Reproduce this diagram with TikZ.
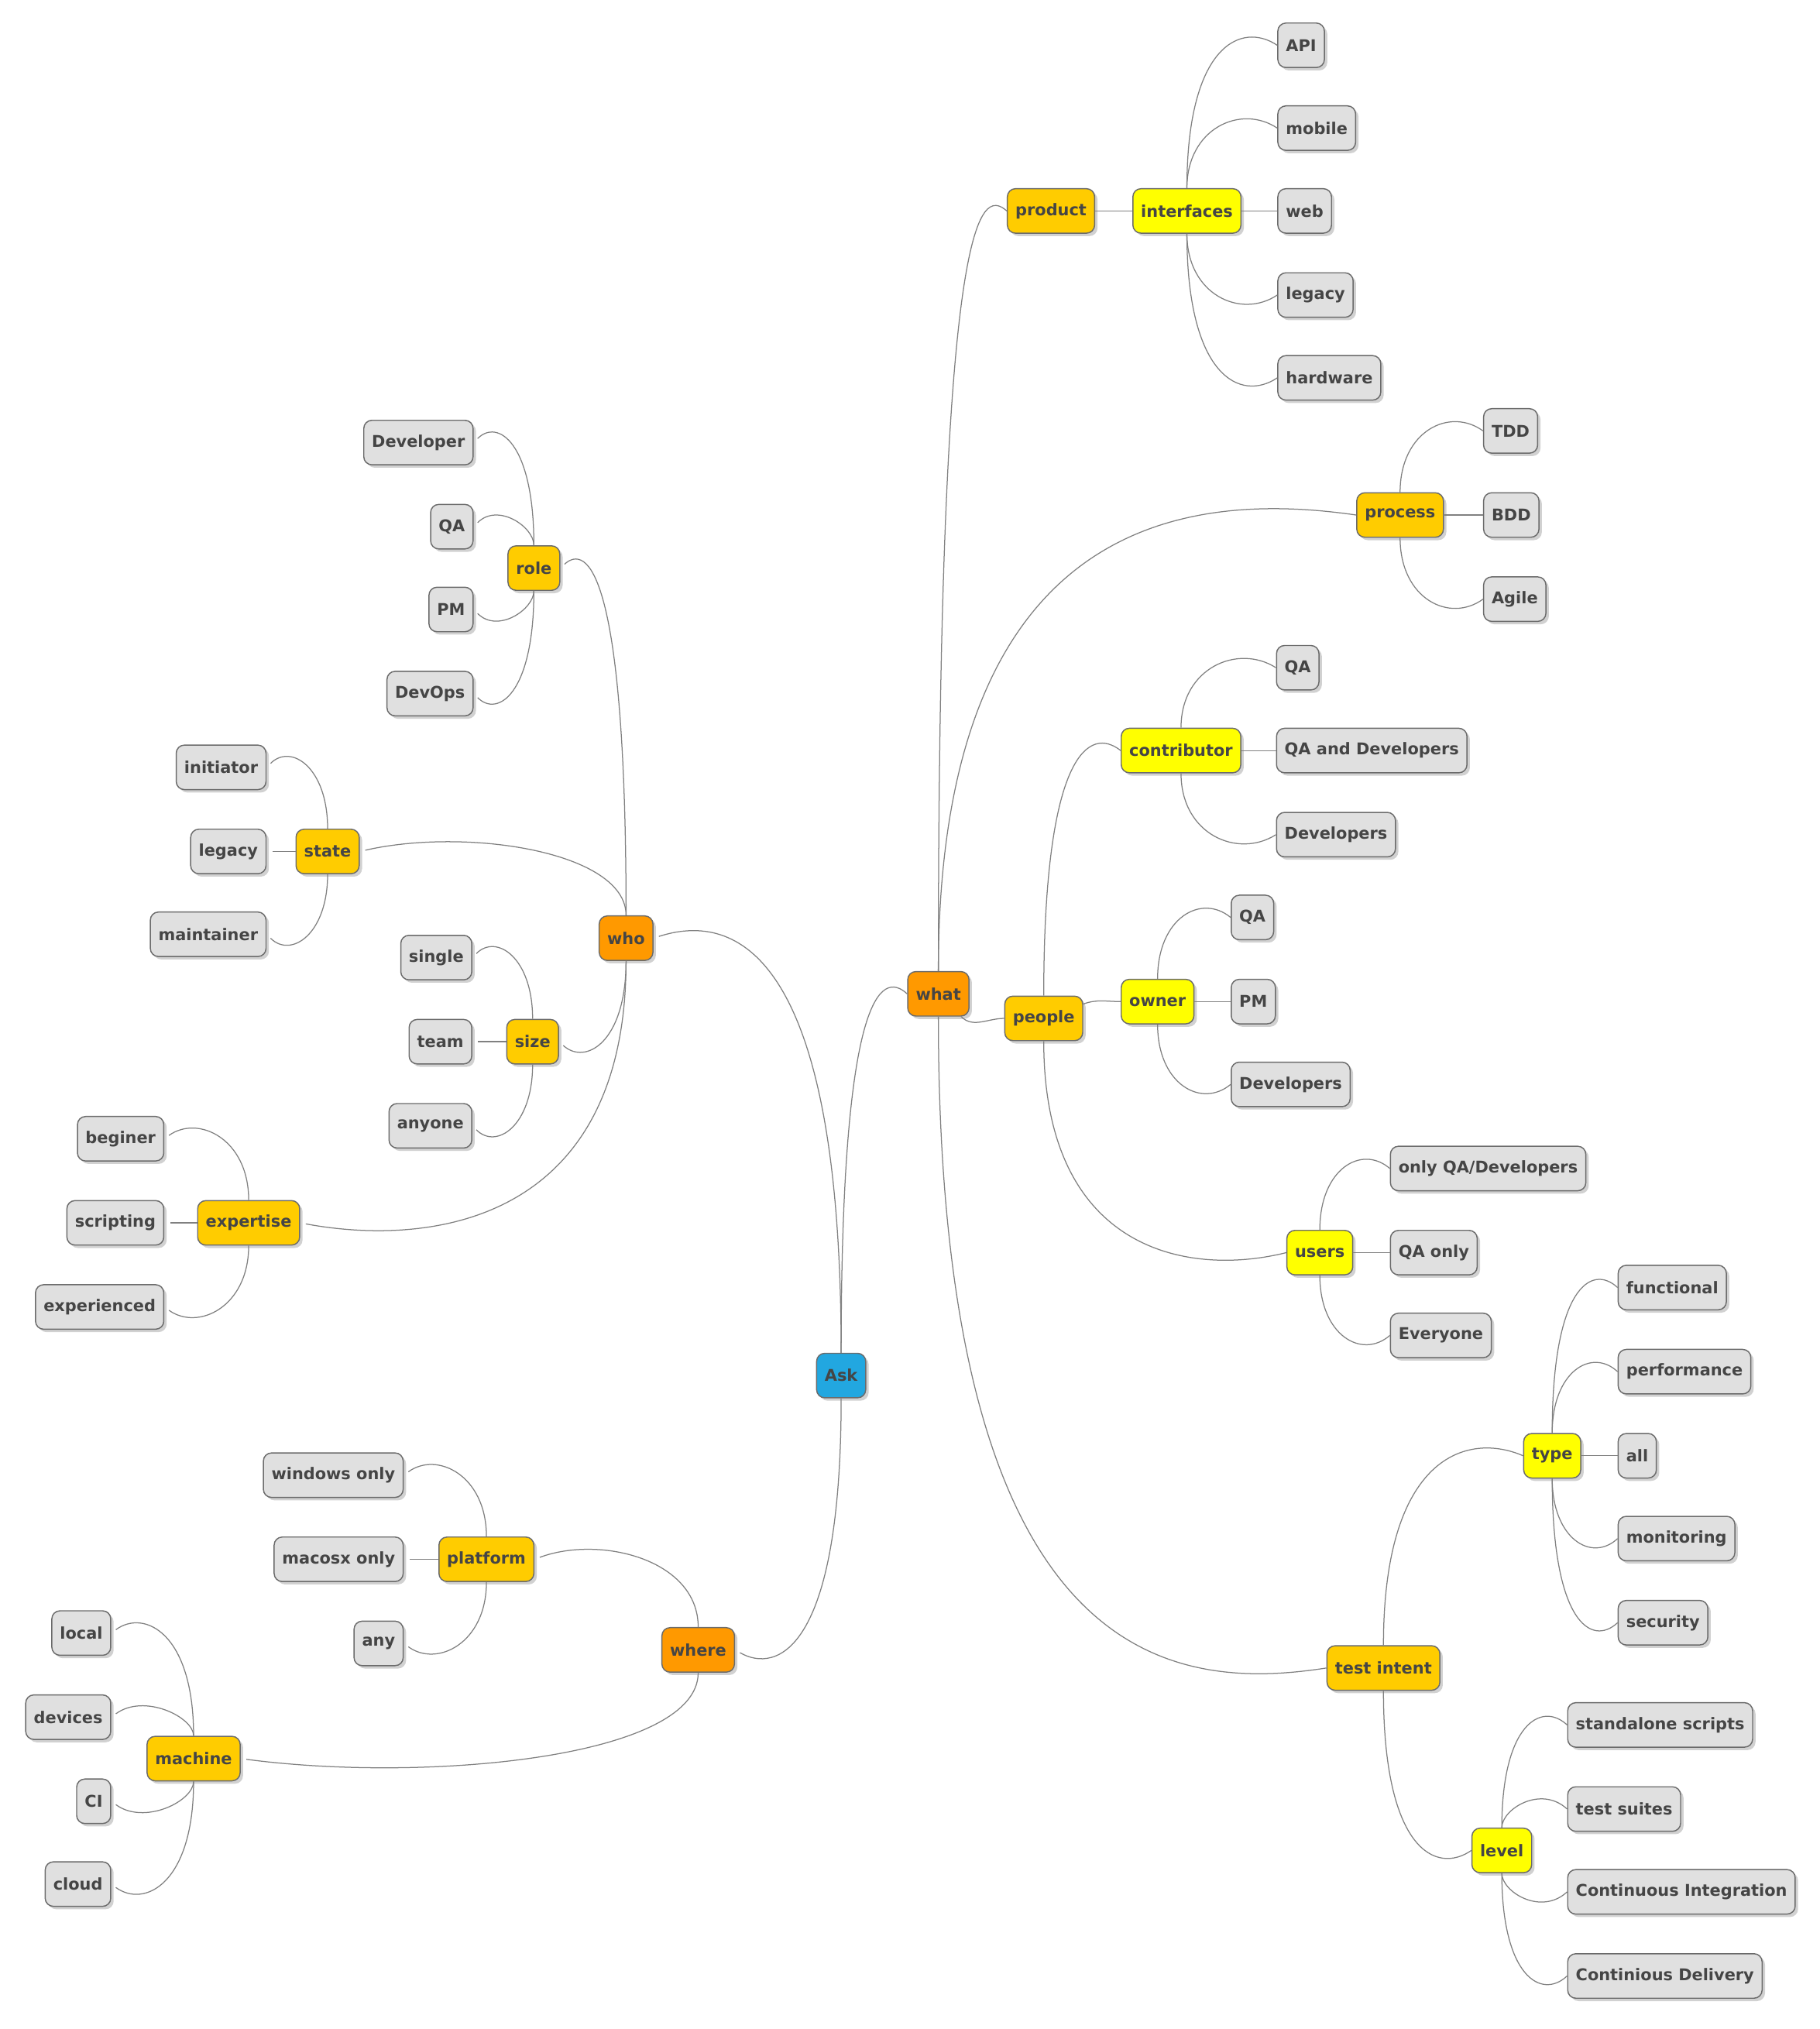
\documentclass[tikz,border=0pt]{standalone}
\usepackage{fontspec}
\setmainfont{DejaVu Sans}
\usetikzlibrary{shadows, calc}

\definecolor{rootblue}{HTML}{22A7E0}
\definecolor{lvlone}{HTML}{FF9900}
\definecolor{lvltwo}{HTML}{FFCC00}
\definecolor{lvlthree}{HTML}{FFFF00}
\definecolor{leafgray}{HTML}{E0E0E0}
\definecolor{boxline}{HTML}{6B6B6B}
\definecolor{txtgray}{HTML}{454545}
\definecolor{linkgray}{HTML}{808080}

\begin{document}
\begin{tikzpicture}[x=0.8pt, y=-0.8pt,
	box/.style={draw=boxline, line width=0.7pt, rounded corners=5pt, text=txtgray,
		font=\bfseries\fontsize{10}{12}\selectfont, inner xsep=5pt, minimum height=27.5pt,
		drop shadow={shadow xshift=1.8pt, shadow yshift=-1.8pt, fill=black!45, opacity=0.4}},
	ask/.style={box, fill=rootblue},
	one/.style={box, fill=lvlone},
	two/.style={box, fill=lvltwo},
	three/.style={box, fill=lvlthree},
	leaf/.style={box, fill=leafgray},
	R/.style={anchor=west},
	L/.style={anchor=east},
	link/.style={draw=linkgray, line width=0.6pt},
	llink/.style={link, shorten >=3.5pt},
	hookup/.style={to path={.. controls (\tikztostart |- \tikztotarget)
		and ([yshift=15pt]$(\tikztotarget)!0.4!(\tikztostart |- \tikztotarget)$) .. (\tikztotarget)}},
	hookdown/.style={to path={.. controls (\tikztostart |- \tikztotarget)
		and ([yshift=-15pt]$(\tikztotarget)!0.4!(\tikztostart |- \tikztotarget)$) .. (\tikztotarget)}}]

	\useasboundingbox (0,0) rectangle (1406,1568);

	\node[ask] (ask) at (650,1063) {Ask};

	% right side
	\node[one, R] (what) at (701,768) {what};

	\node[two, R] (product) at (778,163) {product};
	\node[three, R] (interfaces) at (875,163) {interfaces};
	\node[leaf, R] (api) at (987,35) {API};
	\node[leaf, R] (mobile) at (987,99) {mobile};
	\node[leaf, R] (web) at (987,163) {web};
	\node[leaf, R] (legacyr) at (987,228) {legacy};
	\node[leaf, R] (hardware) at (987,292) {hardware};

	\node[two, R] (process) at (1048,398) {process};
	\node[leaf, R] (tdd) at (1146,333) {TDD};
	\node[leaf, R] (bdd) at (1146,398) {BDD};
	\node[leaf, R] (agile) at (1146,463) {Agile};

	\node[two, R] (people) at (776,787) {people};
	\node[three, R] (contributor) at (866,580) {contributor};
	\node[leaf, R] (cqa) at (986,516) {QA};
	\node[leaf, R] (cqadev) at (986,580) {QA and Developers};
	\node[leaf, R] (cdev) at (986,645) {Developers};
	\node[three, R] (owner) at (866,774) {owner};
	\node[leaf, R] (oqa) at (951,709) {QA};
	\node[leaf, R] (opm) at (951,774) {PM};
	\node[leaf, R] (odev) at (951,838) {Developers};
	\node[three, R] (users) at (994,968) {users};
	\node[leaf, R] (uonly) at (1074,903) {only QA/Developers};
	\node[leaf, R] (uqa) at (1074,968) {QA only};
	\node[leaf, R] (uall) at (1074,1032) {Everyone};

	\node[two, R] (intent) at (1025,1289) {test intent};
	\node[three, R] (type) at (1177,1125) {type};
	\node[leaf, R] (functional) at (1250,995) {functional};
	\node[leaf, R] (performance) at (1250,1060) {performance};
	\node[leaf, R] (all) at (1250,1125) {all};
	\node[leaf, R] (monitoring) at (1250,1189) {monitoring};
	\node[leaf, R] (security) at (1250,1254) {security};
	\node[three, R] (level) at (1137,1430) {level};
	\node[leaf, R] (scripts) at (1211,1333) {standalone scripts};
	\node[leaf, R] (suites) at (1211,1398) {test suites};
	\node[leaf, R] (ci) at (1211,1462) {Continuous Integration};
	\node[leaf, R] (cd) at (1211,1527) {Continious Delivery};

	% left side
	\node[one, L] (who) at (505,725) {who};

	\node[two, L] (role) at (433,439) {role};
	\node[leaf, L] (developer) at (366,342) {Developer};
	\node[leaf, L] (rqa) at (366,407) {QA};
	\node[leaf, L] (rpm) at (366,471) {PM};
	\node[leaf, L] (devops) at (366,536) {DevOps};

	\node[two, L] (state) at (278,658) {state};
	\node[leaf, L] (initiator) at (206,593) {initiator};
	\node[leaf, L] (legacyl) at (206,658) {legacy};
	\node[leaf, L] (maintainer) at (206,722) {maintainer};

	\node[two, L] (size) at (432,805) {size};
	\node[leaf, L] (single) at (365,740) {single};
	\node[leaf, L] (team) at (365,805) {team};
	\node[leaf, L] (anyone) at (365,870) {anyone};

	\node[two, L] (expertise) at (232,945) {expertise};
	\node[leaf, L] (beginer) at (127,880) {beginer};
	\node[leaf, L] (scripting) at (127,945) {scripting};
	\node[leaf, L] (experienced) at (127,1010) {experienced};

	\node[one, L] (where) at (568,1275) {where};

	\node[two, L] (platform) at (413,1205) {platform};
	\node[leaf, L] (windows) at (312,1140) {windows only};
	\node[leaf, L] (macosx) at (312,1205) {macosx only};
	\node[leaf, L] (any) at (312,1270) {any};

	\node[two, L] (machine) at (186,1359) {machine};
	\node[leaf, L] (local) at (86,1262) {local};
	\node[leaf, L] (devices) at (86,1327) {devices};
	\node[leaf, L] (cil) at (86,1392) {CI};
	\node[leaf, L] (cloud) at (86,1456) {cloud};

	% links, right side
	\draw[link] (ask) to[hookup] (what.west);
	\draw[link] (what) to[hookup] (product.west);
	\draw[link] (what) to[hookup] (process.west);
	\draw[link] (what) to[out=-45, in=180] (people.west);
	\draw[link] (what) to[hookdown] (intent.west);

	\draw[link] (product) -- (interfaces);
	\draw[link] (interfaces) to[hookup] (api.west);
	\draw[link] (interfaces) to[hookup] (mobile.west);
	\draw[link] (interfaces) -- (web);
	\draw[link] (interfaces) to[hookdown] (legacyr.west);
	\draw[link] (interfaces) to[hookdown] (hardware.west);

	\draw[link] (process) to[hookup] (tdd.west);
	\draw[link] (process) -- (bdd);
	\draw[link] (process) to[hookdown] (agile.west);

	\draw[link] (people) to[hookup] (contributor.west);
	\draw[link] (people) to[out=20, in=180] (owner.west);
	\draw[link] (people) to[hookdown] (users.west);
	\draw[link] (contributor) to[hookup] (cqa.west);
	\draw[link] (contributor) -- (cqadev);
	\draw[link] (contributor) to[hookdown] (cdev.west);
	\draw[link] (owner) to[hookup] (oqa.west);
	\draw[link] (owner) -- (opm);
	\draw[link] (owner) to[hookdown] (odev.west);
	\draw[link] (users) to[hookup] (uonly.west);
	\draw[link] (users) -- (uqa);
	\draw[link] (users) to[hookdown] (uall.west);

	\draw[link] (intent) to[hookup] (type.west);
	\draw[link] (intent) to[hookdown] (level.west);
	\draw[link] (type) to[hookup] (functional.west);
	\draw[link] (type) to[hookup] (performance.west);
	\draw[link] (type) -- (all);
	\draw[link] (type) to[hookdown] (monitoring.west);
	\draw[link] (type) to[hookdown] (security.west);
	\draw[link] (level) to[hookup] (scripts.west);
	\draw[link] (level) to[hookup] (suites.west);
	\draw[link] (level) to[hookdown] (ci.west);
	\draw[link] (level) to[hookdown] (cd.west);

	% links, left side
	\draw[llink] (ask) to[hookup] (who.east);
	\draw[llink] (ask) to[hookdown] (where.east);

	\draw[llink] (who) to[hookup] (role.east);
	\draw[llink] (who) to[hookup] (state.east);
	\draw[llink] (who) to[hookdown] (size.east);
	\draw[llink] (who) to[hookdown] (expertise.east);
	\draw[llink] (role) to[hookup] (developer.east);
	\draw[llink] (role) to[hookup] (rqa.east);
	\draw[llink] (role) to[hookdown] (rpm.east);
	\draw[llink] (role) to[hookdown] (devops.east);
	\draw[llink] (state) to[hookup] (initiator.east);
	\draw[llink] (state) -- (legacyl);
	\draw[llink] (state) to[hookdown] (maintainer.east);
	\draw[llink] (size) to[hookup] (single.east);
	\draw[llink] (size) -- (team);
	\draw[llink] (size) to[hookdown] (anyone.east);
	\draw[llink] (expertise) to[hookup] (beginer.east);
	\draw[llink] (expertise) -- (scripting);
	\draw[llink] (expertise) to[hookdown] (experienced.east);

	\draw[llink] (where) to[hookup] (platform.east);
	\draw[llink] (where) to[hookdown] (machine.east);
	\draw[llink] (platform) to[hookup] (windows.east);
	\draw[llink] (platform) -- (macosx);
	\draw[llink] (platform) to[hookdown] (any.east);
	\draw[llink] (machine) to[hookup] (local.east);
	\draw[llink] (machine) to[hookup] (devices.east);
	\draw[llink] (machine) to[hookdown] (cil.east);
	\draw[llink] (machine) to[hookdown] (cloud.east);
\end{tikzpicture}
\end{document}
